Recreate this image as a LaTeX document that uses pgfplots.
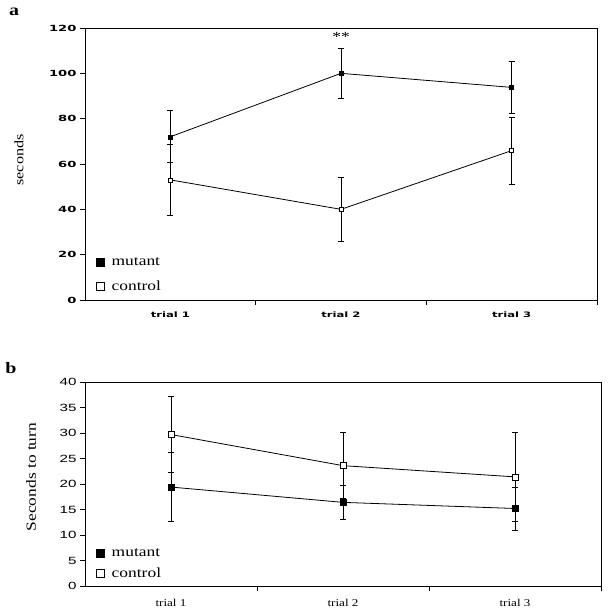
\documentclass[border=0pt]{standalone}
\usepackage{fontspec}
\setmainfont{Liberation Serif}[FakeStretch=1.25]
\newfontfamily\heavy{DejaVu Sans Bold}[FakeStretch=1.55]
\newfontfamily\wsans{Liberation Sans}[FakeStretch=1.45]
\usepackage{pgfplots}
\usepackage{pgfplotstable}
\pgfplotsset{compat=1.18}

% panel a: time (s), mean and error
\pgfplotstableread{
x y err
0 72 11.5
1 100 11
2 93.8 11.5
}\amut
\pgfplotstableread{
x y err
0 53 15.5
1 40 14
2 65.9 14.7
}\acon
% panel b: seconds to turn
\pgfplotstableread{
x y err
0 19.4 6.8
1 16.4 3.3
2 15.2 4.2
}\bmut
\pgfplotstableread{
x y err
0 29.7 7.5
1 23.6 6.5
2 21.4 8.7
}\bcon

\pgfplotsset{
  trialaxis/.style={
    scale only axis, anchor=south west, clip=false,
    xmin=-0.5, xmax=2.5,
    xtick={0,1,2}, xticklabels={trial 1,trial 2,trial 3},
    major x tick style={draw=none},
    minor xtick={0.5,1.5,2.5},
    tick align=outside, xtick pos=bottom, ytick pos=left,
    major tick length=5bp, minor tick length=5bp,
    tick style={black, line width=0.7bp},
    axis line style={line width=0.9bp},
    /pgf/number format/assume math mode=true,
    legend cell align=left,
    legend image code/.code={\draw[##1, mark size=4bp] plot coordinates {(0bp,0bp)};
      \path (-4bp,0bp) (9bp,0bp);},
  },
  ser/.style={black, line width=0.8bp, mark=square*,
    error bars/.cd, y dir=both, y explicit,
    error bar style={line width=0.8bp, black},
    error mark options={rotate=90, mark size=3bp, line width=0.8bp, black},
    /pgfplots/.cd},
}

\begin{document}
\begin{tikzpicture}
\useasboundingbox (0,0) rectangle (608bp,-613bp);

\begin{axis}[trialaxis, at={(85bp,-300bp)}, width=512bp, height=272bp,
  ymin=0, ymax=120, ytick={0,20,...,120},
  yticklabel style={font=\heavy\fontsize{8.5}{8.5}\selectfont},
  xticklabel style={font=\heavy\fontsize{7.5}{7.5}\selectfont, yshift=-3bp},
  legend style={at={(0.015,0.015)}, anchor=south west, draw=none, fill=none,
    font=\fontsize{14}{14}\selectfont, row sep=10bp}]
  \addplot[ser, mark size=2bp, mark options={solid, line width=0.6bp, fill=black}] table[x=x, y=y, y error=err] {\amut};
  \addplot[ser, mark size=2bp, mark options={solid, line width=0.6bp, fill=white}] table[x=x, y=y, y error=err] {\acon};
  \legend{mutant, control}
  \node[font=\fontsize{14}{14}\selectfont] at (axis cs:1,116) {**};
\end{axis}

\begin{axis}[trialaxis, at={(85bp,-586bp)}, width=516bp, height=204bp,
  ymin=0, ymax=40, ytick={0,5,...,40},
  yticklabel style={font=\wsans\fontsize{10.5}{10.5}\selectfont},
  xticklabel style={font=\fontsize{10.5}{10.5}\selectfont, yshift=-5bp},
  legend style={at={(0.015,0.015)}, anchor=south west, draw=none, fill=none,
    font=\fontsize{14}{14}\selectfont, row sep=6bp}]
  \addplot[ser, mark size=3bp, mark options={solid, line width=0.6bp, fill=black}] table[x=x, y=y, y error=err] {\bmut};
  \addplot[ser, mark size=3bp, mark options={solid, line width=0.6bp, fill=white}] table[x=x, y=y, y error=err] {\bcon};
  \legend{mutant, control}
\end{axis}

\node[font=\bfseries\fontsize{16}{16}\selectfont] at (14bp,-12bp) {a};
\node[font=\bfseries\fontsize{16}{16}\selectfont] at (11bp,-368bp) {b};
\node[rotate=90, font=\fontsize{13}{13}\selectfont] at (19bp,-160bp) {seconds};
\node[rotate=90, font=\fontsize{14}{14}\selectfont] at (31bp,-477bp) {Seconds to turn};
\end{tikzpicture}
\end{document}
